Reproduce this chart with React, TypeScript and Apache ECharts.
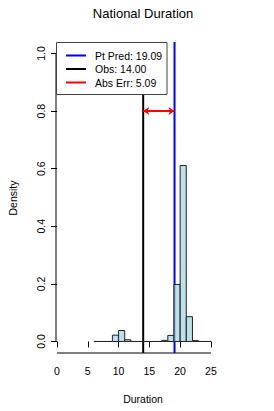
import React, { useEffect, useRef } from "react";
import * as echarts from "echarts";

// Histogram bins (left edge, right edge) and densities
const binLeft = [6, 7, 8, 9, 10, 11, 12, 13, 14, 15, 16, 17, 18, 19, 20, 21, 22, 23, 24];
const binRight = [7, 8, 9, 10, 11, 12, 13, 14, 15, 16, 17, 18, 19, 20, 21, 22, 23, 24, 25];
const density = [0, 0, 0, 0.022, 0.038, 0.006, 0, 0, 0, 0, 0, 0.004, 0.021, 0.198, 0.611, 0.086, 0.003, 0, 0];

const ptPred = 19.09;
const obs = 14.0;
const absErr = 5.09;
const arrowY = 0.8;

const xTicks = [0, 5, 10, 15, 20, 25];
const yTicks = [0, 0.2, 0.4, 0.6, 0.8, 1.0];

const legendLabels = ["Pt Pred: 19.09", "Obs: 14.00", "Abs Err: 5.09"];
const legendColors = ["#0000ff", "#000000", "#ff0000"];

const XMIN = -0.16;
const XMAX = 28.1;
const YMIN = -0.04;
const YMAX = 1.04;

const FONT = "Liberation Sans, Arial, Helvetica, sans-serif";

export default function App() {
  const ref = useRef<HTMLDivElement>(null);
  useEffect(() => {
    if (!ref.current) return;
    const chart = echarts.init(ref.current, null, { renderer: "svg" });
    const bins = binLeft.map((l, i) => [l, binRight[i], density[i]]);
    const legendTop = 42;
    const rowY = [55.5, 69, 82.5];
    const legendEls: any[] = [
      {
        type: "rect",
        z: 100,
        shape: { x: 56.5, y: legendTop + 0.5, width: 110.5, height: 52 },
        style: { fill: "#ffffff", stroke: "#444", lineWidth: 1 },
      },
    ];
    legendLabels.forEach((lbl, i) => {
      legendEls.push({
        type: "line",
        z: 101,
        shape: { x1: 66, y1: rowY[i], x2: 86, y2: rowY[i] },
        style: { stroke: legendColors[i], lineWidth: 2 },
      });
      legendEls.push({
        type: "text",
        z: 101,
        x: 95,
        y: rowY[i],
        style: {
          text: lbl,
          fontFamily: FONT,
          fontSize: 10.5,
          fill: "#000",
          textAlign: "left",
          textVerticalAlign: "middle",
        },
      });
    });
    const option: any = {
      animation: false,
      backgroundColor: "#ffffff",
      grid: { left: 56, right: 44, top: 42, bottom: 58 },
      xAxis: {
        type: "value",
        min: XMIN,
        max: XMAX,
        splitLine: { show: false },
        axisLine: { show: false },
        axisTick: {
          show: true,
          length: 6,
          inside: false,
          customValues: xTicks,
          lineStyle: { color: "#000", width: 1 },
        },
        axisLabel: {
          show: true,
          customValues: xTicks,
          margin: 12,
          fontFamily: FONT,
          fontSize: 10.5,
          color: "#000",
          formatter: (v: number) => String(v),
        },
      },
      yAxis: {
        type: "value",
        min: YMIN,
        max: YMAX,
        splitLine: { show: false },
        axisLine: { show: false },
        axisTick: {
          show: true,
          length: 6,
          inside: false,
          customValues: yTicks,
          lineStyle: { color: "#000", width: 1 },
        },
        axisLabel: {
          show: true,
          customValues: yTicks,
          rotate: 90,
          margin: 10,
          fontFamily: FONT,
          fontSize: 10.5,
          color: "#000",
          formatter: (v: number) => v.toFixed(1),
        },
      },
      series: [
        {
          type: "line",
          name: "xaxis",
          data: [
            [xTicks[0], YMIN],
            [xTicks[xTicks.length - 1], YMIN],
          ],
          symbol: "none",
          clip: false,
          lineStyle: { color: "#000", width: 1 },
          z: 1,
        },
        {
          type: "line",
          name: "yaxis",
          data: [
            [XMIN, yTicks[0]],
            [XMIN, yTicks[yTicks.length - 1]],
          ],
          symbol: "none",
          clip: false,
          lineStyle: { color: "#000", width: 1 },
          z: 1,
        },
        {
          type: "line",
          name: "Pt Pred",
          data: [
            [ptPred, YMIN],
            [ptPred, YMAX],
          ],
          symbol: "none",
          lineStyle: { color: "#0000ff", width: 2 },
          z: 2,
        },
        {
          type: "line",
          name: "Obs",
          data: [
            [obs, YMIN],
            [obs, YMAX],
          ],
          symbol: "none",
          lineStyle: { color: "#000000", width: 2 },
          z: 2,
        },
        {
          type: "custom",
          name: "hist",
          data: bins,
          encode: { x: [0, 1], y: 2 },
          z: 3,
          renderItem: (params: any, api: any) => {
            const x0 = api.value(0);
            const x1 = api.value(1);
            const h = api.value(2);
            const p0 = api.coord([x0, 0]);
            const p1 = api.coord([x1, h]);
            return {
              type: "rect",
              shape: {
                x: p0[0],
                y: p1[1],
                width: p1[0] - p0[0],
                height: p0[1] - p1[1],
              },
              style: {
                fill: "rgba(173,216,230,0.8)",
                stroke: "#222",
                lineWidth: 1,
              },
            };
          },
        },
        {
          type: "line",
          name: "Abs Err",
          data: [],
          symbol: "none",
          z: 4,
          markLine: {
            silent: true,
            symbol: ["arrow", "arrow"],
            symbolSize: [6, 6],
            label: { show: false },
            lineStyle: { color: "#ff0000", width: 2, type: "solid" },
            data: [
              [
                { coord: [obs, arrowY] },
                { coord: [obs + absErr, arrowY] },
              ],
            ],
          },
        },
      ],
      graphic: {
        elements: [
          {
            type: "text",
            x: 143,
            y: 13,
            style: {
              text: "National Duration",
              fontFamily: FONT,
              fontSize: 13,
              fill: "#000",
              textAlign: "center",
              textVerticalAlign: "middle",
            },
          },
          {
            type: "text",
            x: 143,
            y: 399,
            style: {
              text: "Duration",
              fontFamily: FONT,
              fontSize: 10.5,
              fill: "#000",
              textAlign: "center",
              textVerticalAlign: "middle",
            },
          },
          {
            type: "text",
            x: 13,
            y: 198,
            rotation: Math.PI / 2,
            style: {
              text: "Density",
              fontFamily: FONT,
              fontSize: 10.5,
              fill: "#000",
              textAlign: "center",
              textVerticalAlign: "middle",
            },
          },
          ...legendEls,
        ],
      },
    };
    chart.setOption(option);
    return () => chart.dispose();
  }, []);
  return (
    <div
      ref={ref}
      style={{ position: "absolute", left: 0, top: 0, width: 274, height: 411 }}
    />
  );
}
